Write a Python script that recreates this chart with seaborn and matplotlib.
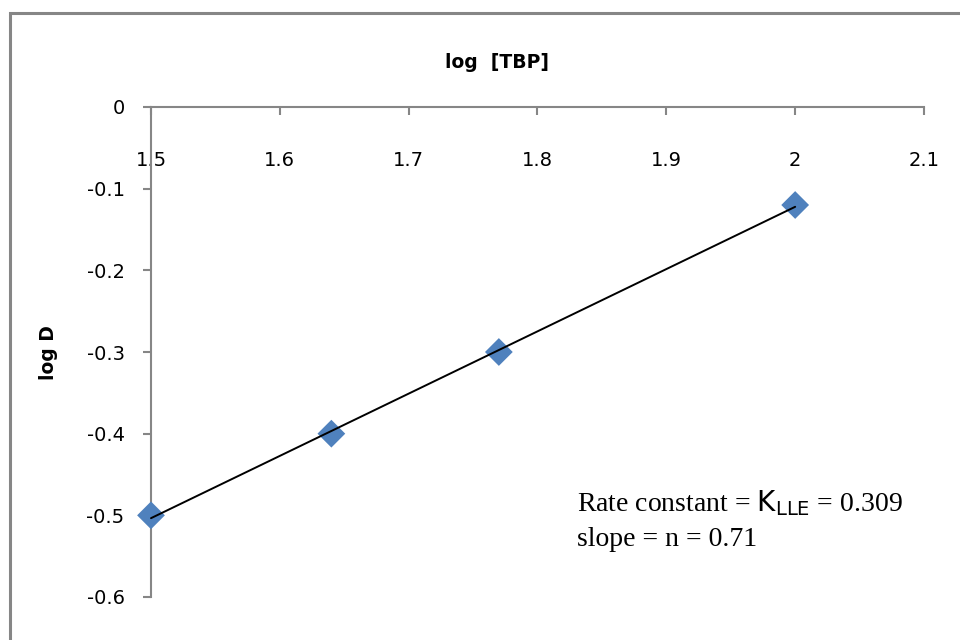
import matplotlib
matplotlib.use("Agg")
import matplotlib.pyplot as plt
import seaborn as sns
import pandas as pd
from matplotlib.patches import Rectangle

# ---- data ----
log_tbp = [1.5, 1.64, 1.77, 2.0]
log_d = [-0.5, -0.4, -0.3, -0.12]
x_ticks = [1.5, 1.6, 1.7, 1.8, 1.9, 2.0, 2.1]
x_tick_labels = ["1.5", "1.6", "1.7", "1.8", "1.9", "2", "2.1"]
y_ticks = [0, -0.1, -0.2, -0.3, -0.4, -0.5, -0.6]
y_tick_labels = ["0", "-0.1", "-0.2", "-0.3", "-0.4", "-0.5", "-0.6"]
x_title = "log  [TBP]"
y_title = "log D"
note_line1 = r"Rate constant = $\mathsf{K}_{\mathsf{LLE}}$ = 0.309"
note_line2 = "slope = n = 0.71"

df = pd.DataFrame({"log_tbp": log_tbp, "log_d": log_d})

sns.set_style("white")
plt.rcParams["font.family"] = ["DejaVu Sans"]
plt.rcParams["axes.unicode_minus"] = False
plt.rcParams["text.color"] = "black"
plt.rcParams["mathtext.fontset"] = "custom"
plt.rcParams["mathtext.sf"] = "DejaVu Sans"
plt.rcParams["mathtext.rm"] = "Liberation Serif"

fig = plt.figure(figsize=(9.6, 6.4), dpi=100)
fig.patch.set_facecolor("white")
ax = fig.add_axes([151 / 960, 1 - 597 / 640, (924 - 151) / 960, (597 - 107) / 640])
ax.set_facecolor("none")

axis_gray = "#868686"
marker_blue = "#4F81BD"

sns.regplot(data=df, x="log_tbp", y="log_d", ax=ax, ci=None, truncate=True,
            marker="D",
            scatter_kws=dict(s=200, color=marker_blue, edgecolor="none",
                             alpha=1, zorder=3, clip_on=False),
            line_kws=dict(color="black", lw=1.4, zorder=4, clip_on=False))

ax.set_xlim(1.5, 2.1)
ax.set_ylim(-0.6, 0)
ax.set_xlabel("")
ax.set_ylabel("")

ax.set_xticks(x_ticks)
ax.set_xticklabels(x_tick_labels)
ax.set_yticks(y_ticks)
ax.set_yticklabels(y_tick_labels)

for s in ["top", "right"]:
    ax.spines[s].set_visible(False)
ax.spines["bottom"].set_position(("data", 0))
for s in ["bottom", "left"]:
    ax.spines[s].set_color(axis_gray)
    ax.spines[s].set_linewidth(1.5)
    ax.spines[s].set_zorder(1)

ax.tick_params(axis="x", direction="out", length=6, width=1.5, color=axis_gray,
               pad=26, labelsize=14, labelcolor="black", bottom=True)
ax.tick_params(axis="y", direction="out", length=6, width=1.5, color=axis_gray,
               pad=13, labelsize=14, labelcolor="black", left=True)

fig.text(497 / 960, 1 - 62 / 640, x_title, ha="center", va="center",
         fontsize=13.5, fontweight="bold", color="black")
fig.text(49 / 960, 1 - 353 / 640, y_title, ha="center", va="center",
         rotation=90, fontsize=13.5, fontweight="bold", color="black")

fig.text(577 / 960, 1 - 511 / 640, note_line1, ha="left", va="baseline",
         fontsize=20, family=["Liberation Serif"], color="black")
fig.text(577 / 960, 1 - 546 / 640, note_line2, ha="left", va="baseline",
         fontsize=20, family=["Liberation Serif"], color="black")

# outer chart border (extends past right and bottom edges)
fig.patches.append(Rectangle((10 / 960, -0.2), 1.2, 1 - 13 / 640 + 0.2,
                             transform=fig.transFigure, fill=False,
                             edgecolor=axis_gray, lw=2.2, zorder=0))

fig.savefig("out.png", dpi=100)
